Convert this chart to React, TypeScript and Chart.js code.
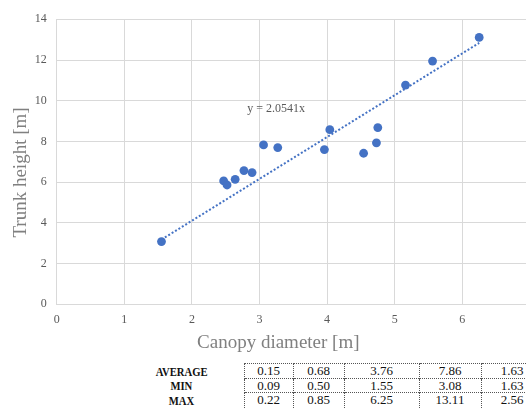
import React, { useEffect, useRef } from "react";
import { Chart, registerables } from "chart.js";

Chart.register(...registerables);

// ---- data ----
const canopyDiameter = [1.55, 2.47, 2.52, 2.64, 2.77, 2.89, 3.06, 3.27, 3.96, 4.04, 4.54, 4.73, 4.75, 5.16, 5.56, 6.25];
const trunkHeight = [3.08, 6.06, 5.86, 6.14, 6.57, 6.47, 7.83, 7.7, 7.6, 8.58, 7.42, 7.93, 8.68, 10.77, 11.95, 13.11];
const trendX = [1.55, 6.25];
const trendY = [3.18, 12.84];
const trendLabel = "y = 2.0541x";
const trendLabelAt = [2.82, 9.6];
const xTitle = "Canopy diameter [m]";
const yTitle = "Trunk height [m]";
const tableRowLabels = ["AVERAGE", "MIN", "MAX"];
const tableAverage = ["0.15", "0.68", "3.76", "7.86", "1.63"];
const tableMin = ["0.09", "0.50", "1.55", "3.08", "1.63"];
const tableMax = ["0.22", "0.85", "6.25", "13.11", "2.56"];

// ---- layout constants ----
const CANVAS_W = 600;
const CANVAS_H = 360;
const PLOT_LEFT = 56.7;
const PLOT_RIGHT = 529.9;
const PLOT_TOP = 19.3;
const PLOT_BOTTOM = 304.3;
const X_TITLE_POS = [278.3, 343];
const Y_TITLE_POS = [21.5, 172.5];
const colWidths = [124, 49, 51, 75, 62, 62];
const rowHeights = [15, 14, 15];

const SERIF = '"Liberation Serif", "Times New Roman", serif';
const BLUE = "#4472C4";
const TITLE_GRAY = "#808080";

const annotationPlugin = {
  id: "annotations",
  afterDatasetsDraw(chart: any) {
    const { ctx, scales } = chart;
    const x = scales.x;
    const y = scales.y;
    ctx.save();
    ctx.font = `12px ${SERIF}`;
    ctx.fillStyle = "#595959";
    ctx.textAlign = "left";
    ctx.textBaseline = "middle";
    ctx.fillText(trendLabel, x.getPixelForValue(trendLabelAt[0]), y.getPixelForValue(trendLabelAt[1]));
    ctx.restore();
  },
  afterDraw(chart: any) {
    const { ctx } = chart;
    ctx.save();
    ctx.font = `19px ${SERIF}`;
    ctx.fillStyle = TITLE_GRAY;
    ctx.textAlign = "center";
    ctx.textBaseline = "middle";
    ctx.fillText(xTitle, X_TITLE_POS[0], X_TITLE_POS[1]);
    ctx.translate(Y_TITLE_POS[0], Y_TITLE_POS[1]);
    ctx.rotate(-Math.PI / 2);
    ctx.fillText(yTitle, 0, 0);
    ctx.restore();
  },
};

export default function App() {
  const canvasRef = useRef<HTMLCanvasElement | null>(null);

  useEffect(() => {
    document.body.style.margin = "0";
    const canvas = canvasRef.current;
    if (!canvas) return;
    const chart = new Chart(canvas, {
      type: "scatter",
      data: {
        datasets: [
          {
            type: "scatter",
            label: "data",
            data: canopyDiameter.map((v, i) => ({ x: v, y: trunkHeight[i] })),
            backgroundColor: BLUE,
            borderColor: BLUE,
            pointRadius: 4.4,
            pointBorderWidth: 0,
            order: 0,
          },
          {
            type: "line",
            label: "trend",
            data: trendX.map((v, i) => ({ x: v, y: trendY[i] })),
            borderColor: BLUE,
            borderWidth: 2,
            borderDash: [2, 2],
            pointRadius: 0,
            fill: false,
            order: 1,
          } as any,
        ],
      },
      options: {
        animation: false,
        responsive: false,
        maintainAspectRatio: false,
        layout: {
          padding: { left: 0, top: PLOT_TOP, right: CANVAS_W - PLOT_RIGHT, bottom: 0 },
        },
        plugins: {
          legend: { display: false },
          tooltip: { enabled: false },
        },
        scales: {
          x: {
            type: "linear",
            min: 0,
            max: 7,
            ticks: {
              stepSize: 1,
              color: "#595959",
              font: { family: SERIF, size: 12 },
              padding: 8,
            },
            grid: { color: "#d9d9d9", drawTicks: false },
            border: { color: "#d9d9d9" },
            title: { display: false },
            afterFit(axis: any) {
              axis.height = CANVAS_H - PLOT_BOTTOM;
            },
          },
          y: {
            type: "linear",
            min: 0,
            max: 14,
            ticks: {
              stepSize: 2,
              color: "#595959",
              font: { family: SERIF, size: 12 },
              padding: 10,
            },
            grid: { color: "#d9d9d9", drawTicks: false },
            border: { color: "#d9d9d9" },
            title: { display: false },
            afterFit(axis: any) {
              axis.width = PLOT_LEFT;
            },
          },
        },
      },
      plugins: [annotationPlugin],
    });
    return () => chart.destroy();
  }, []);

  const rows = [tableAverage, tableMin, tableMax];

  return (
    <div style={{ position: "relative", width: 526, height: 410, overflow: "hidden", background: "#fff" }}>
      <canvas
        ref={canvasRef}
        width={CANVAS_W}
        height={CANVAS_H}
        style={{ position: "absolute", left: 0, top: 0, width: CANVAS_W, height: CANVAS_H }}
      />
      <table
        style={{
          position: "absolute",
          left: 120,
          top: 363,
          borderCollapse: "collapse",
          tableLayout: "fixed",
          fontFamily: SERIF,
          fontSize: 13,
          color: "#111",
          width: colWidths.reduce((a, b) => a + b, 0),
        }}
      >
        <colgroup>
          {colWidths.map((w, i) => (
            <col key={i} style={{ width: w }} />
          ))}
        </colgroup>
        <tbody>
          {rows.map((vals, r) => (
            <tr key={r} style={{ height: rowHeights[r] }}>
              <td style={{ padding: 0, textAlign: "center", fontWeight: "bold", lineHeight: `${rowHeights[r]}px` }}>
                <span style={{ display: "inline-block", transform: "scaleX(0.82)" }}>{tableRowLabels[r]}</span>
              </td>
              {vals.map((v, c) => (
                <td
                  key={c}
                  style={{
                    padding: 0,
                    textAlign: "center",
                    lineHeight: `${rowHeights[r] - 1}px`,
                    borderLeft: "1px dotted #555",
                    borderRight: "1px dotted #555",
                    borderTop: "1px dotted #555",
                  }}
                >
                  {v}
                </td>
              ))}
            </tr>
          ))}
        </tbody>
      </table>
    </div>
  );
}
